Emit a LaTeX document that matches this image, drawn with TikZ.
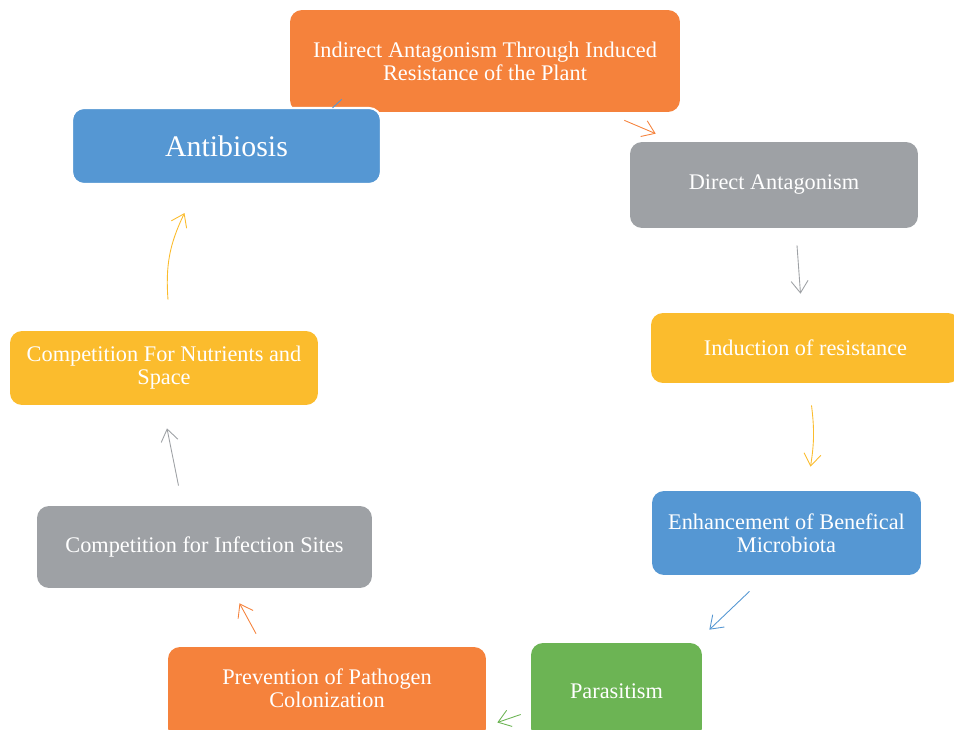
\documentclass[tikz,border=0pt]{standalone}
\usepackage{fontspec}
\setmainfont{Liberation Serif}
\usepackage{tikz}
\usetikzlibrary{arrows.meta,calc}
\definecolor{orng}{RGB}{245,130,60}
\definecolor{blu}{RGB}{85,151,211}
\definecolor{gry}{RGB}{158,161,165}
\definecolor{ylw}{RGB}{251,188,45}
\definecolor{grn}{RGB}{108,180,84}
\tikzset{
    box/.style={rectangle, rounded corners=0.24cm, draw=none, inner sep=0mm, align=center,
        text=white, font=\fontsize{12.7}{13}\selectfont},
    arr/.style={-{Straight Barb[length=2.4mm,width=3.4mm]}, line width=0.5pt}
}

\begin{document}
\begin{tikzpicture}[x=0.02cm, y=-0.02cm]
    \useasboundingbox (0,0) rectangle (954,730);
    \node (ind) [box, fill=orng, minimum width=7.8cm, minimum height=2.04cm] at (485,61) {Indirect Antagonism Through Induced\\Resistance of the Plant};
    \node (anti) [box, fill=blu, draw=white, line width=1.2pt, minimum width=6.18cm, minimum height=1.52cm, font=\fontsize{17}{19}\selectfont] at (226.5,146) {Antibiosis};
    \node (dir) [box, fill=gry, minimum width=5.76cm, minimum height=1.72cm] at (774,185) {Direct Antagonism};
    \node (res) [box, fill=ylw, minimum width=6.18cm, minimum height=1.4cm] at (805.5,348) {Induction of resistance};
    \node (enh) [box, fill=blu, minimum width=5.38cm, minimum height=1.68cm] at (786.5,533) {Enhancement of Benefical\\Microbiota};
    \node (par) [box, fill=grn, minimum width=3.42cm, minimum height=1.94cm] at (616.5,691.5) {Parasitism};
    \node (prev) [box, fill=orng, minimum width=6.36cm, minimum height=1.86cm] at (327,693.5) {Prevention of Pathogen\\Colonization\rule[-0.2cm]{0pt}{0pt}};
    \node (inf) [box, fill=gry, minimum width=6.7cm, minimum height=1.64cm] at (204.5,547) {Competition for Infection Sites};
    \node (nut) [box, fill=ylw, minimum width=6.16cm, minimum height=1.48cm] at (164,368) {Competition For Nutrients and\\Space};

    \draw[arr, orng] ($(ind.south east)+(-56,8)$) -- ($(dir.north west)+(26,-8)$);
    \draw[arr, gry] ($(dir.south)+(23,17)$) -- ($(res.north)+(-5,-19)$);
    \draw[arr, ylw] ($(res.south)+(6,22)$) to[bend left=8] ($(enh.north)+(24,-24)$);
    \draw[arr, blu] ($(enh.south)+(-37,16)$) -- ($(par.north east)+(7,-13)$);
    \draw[arr, grn] ($(par.west)+(-10,23)$) -- ($(prev.east)+(11,29)$);
    \draw[arr, orng] ($(prev.north)+(-71,-13)$) -- ($(inf.south)+(35,15)$);
    \draw[arr, gry] ($(inf.north)+(-26,-20)$) -- ($(nut.south)+(3,23)$);
    \draw[arr, ylw] ($(nut.north)+(4,-31)$) to[bend left=15] ($(anti.south)+(-42,28)$);
    \draw[blu, line width=0.5pt] ($(anti.north)+(106,1)$) -- ($(ind.south west)+(52,-13)$);
\end{tikzpicture}
\end{document}
